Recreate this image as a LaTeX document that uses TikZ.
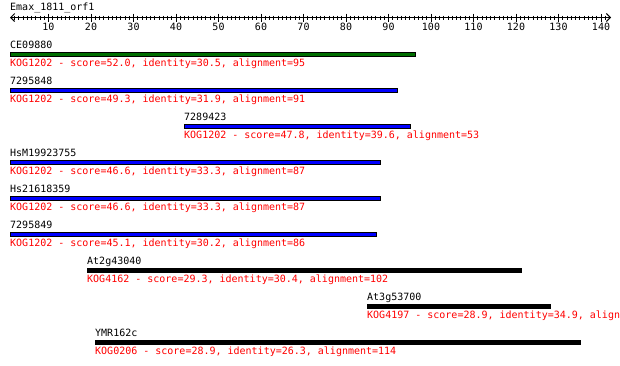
\documentclass[tikz,border=0pt]{standalone}
\usepackage{fontspec}
\setmonofont{DejaVu Sans Mono}
\usetikzlibrary{arrows.meta}
\definecolor{hitgreen}{RGB}{0,110,0}
\definecolor{hitblue}{RGB}{0,0,255}
\tikzset{
  lbl/.style={anchor=base west, inner sep=0pt, font=\ttfamily\fontsize{10}{12}\selectfont},
  kog/.style={lbl, text=red},
  num/.style={anchor=base, inner sep=0pt, font=\ttfamily\fontsize{10}{12}\selectfont},
  hit/.style={draw=black, line width=1pt},
}

\begin{document}
\begin{tikzpicture}[x=1pt,y=-1pt]
    \clip (0,0) rectangle (620,365);
    \fill[white] (0,0) rectangle (620,365);

    % ruler
    \node[lbl] (query) at (10,10) {Emax\_1811\_orf1};
    \coordinate (r1) at (10,17.5);
    \coordinate (r2) at (611,17.5);
    \draw[line width=1pt, {Straight Barb[length=4pt,width=8pt]}-{Straight Barb[length=4pt,width=8pt]}] (r1) -- (r2);
    \foreach \t in {2,...,141}
        \draw[line width=1pt] ({6+4.25*\t},15.5) -- ({6+4.25*\t},19.5);
    \foreach \t in {1,...,14} {
        \pgfmathtruncatemacro\lab{10*\t}
        \draw[line width=1pt] ({6+42.5*\t},13.5) -- ({6+42.5*\t},21.5);
        \node[num] (n\t) at ({6+42.5*\t},30) {\lab};
    }

    % hits
    \node[lbl] (h1) at (10,48) {CE09880};
    \filldraw[hit, fill=hitgreen] (10,52.5) rectangle (415,56.5);
    \node[kog] (k1) at (10,66) {KOG1202 - score=52.0, identity=30.5, alignment=95};

    \node[lbl] (h2) at (10,84) {7295848};
    \filldraw[hit, fill=hitblue] (10,88.5) rectangle (397,92.5);
    \node[kog] (k2) at (10,102) {KOG1202 - score=49.3, identity=31.9, alignment=91};

    \node[lbl] (h3) at (184,120) {7289423};
    \filldraw[hit, fill=hitblue] (184,124.5) rectangle (410,128.5);
    \node[kog] (k3) at (184,138) {KOG1202 - score=47.8, identity=39.6, alignment=53};

    \node[lbl] (h4) at (10,156) {HsM19923755};
    \filldraw[hit, fill=hitblue] (10,160.5) rectangle (380,164.5);
    \node[kog] (k4) at (10,174) {KOG1202 - score=46.6, identity=33.3, alignment=87};

    \node[lbl] (h5) at (10,192) {Hs21618359};
    \filldraw[hit, fill=hitblue] (10,196.5) rectangle (380,200.5);
    \node[kog] (k5) at (10,210) {KOG1202 - score=46.6, identity=33.3, alignment=87};

    \node[lbl] (h6) at (10,228) {7295849};
    \filldraw[hit, fill=hitblue] (10,232.5) rectangle (376,236.5);
    \node[kog] (k6) at (10,246) {KOG1202 - score=45.1, identity=30.2, alignment=86};

    \node[lbl] (h7) at (87,264) {At2g43040};
    \filldraw[hit, fill=black] (87,268.5) rectangle (521,272.5);
    \node[kog] (k7) at (87,282) {KOG4162 - score=29.3, identity=30.4, alignment=102};

    \node[lbl] (h8) at (367,300) {At3g53700};
    \filldraw[hit, fill=black] (367,304.5) rectangle (550,308.5);
    \node[kog] (k8) at (367,318) {KOG4197 - score=28.9, identity=34.9, alignment=43};

    \node[lbl] (h9) at (95,336) {YMR162c};
    \filldraw[hit, fill=black] (95,340.5) rectangle (580,344.5);
    \node[kog] (k9) at (95,354) {KOG0206 - score=28.9, identity=26.3, alignment=114};

\end{tikzpicture}
\end{document}
